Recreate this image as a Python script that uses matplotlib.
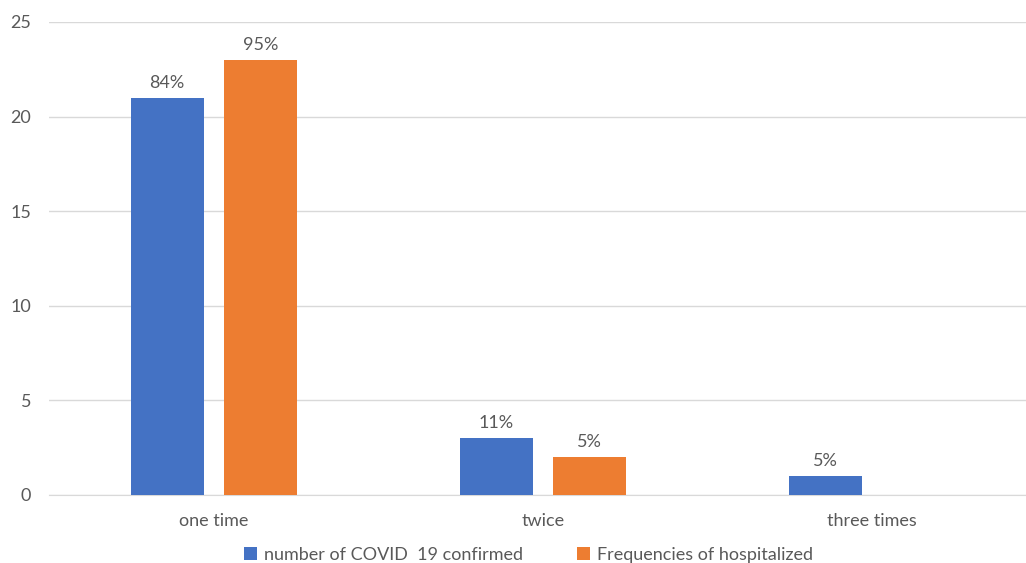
import matplotlib.pyplot as plt
import numpy as np

plt.rcParams['font.family'] = ['Lato', 'DejaVu Sans']

categories = ['one time', 'twice', 'three times']
confirmed = [21, 3, 1]
hospitalized = [23, 2, None]
confirmed_labels = ['84%', '11%', '5%']
hospitalized_labels = ['95%', '5%', None]

blue = '#4472C4'
orange = '#ED7D31'
text_col = '#595959'
grid_col = '#D9D9D9'

fig = plt.figure(figsize=(10.26, 5.63), dpi=100)
ax = fig.add_axes([0.048, 0.121, 0.962, 0.840])

x = np.arange(len(categories))
w = 0.222
off = 0.142

b1 = ax.bar(x - off, confirmed, w, color=blue, label='number of COVID  19 confirmed', zorder=3)
h_x = [xi + off for xi, v in zip(x, hospitalized) if v is not None]
h_v = [v for v in hospitalized if v is not None]
b2 = ax.bar(h_x, h_v, w, color=orange, label='Frequencies of hospitalized', zorder=3)

for rect, lab in zip(b1, confirmed_labels):
    ax.annotate(lab, (rect.get_x() + rect.get_width() / 2, rect.get_height()),
                xytext=(0, 5), textcoords='offset points', ha='center', va='bottom',
                fontsize=13, color=text_col)
for rect, lab in zip(b2, [l for l in hospitalized_labels if l is not None]):
    ax.annotate(lab, (rect.get_x() + rect.get_width() / 2, rect.get_height()),
                xytext=(0, 5), textcoords='offset points', ha='center', va='bottom',
                fontsize=13, color=text_col)

ax.set_xlim(-0.5, 2.5)
ax.set_ylim(0, 25)
ax.set_yticks([0, 5, 10, 15, 20, 25])
ax.set_xticks(x)
ax.set_xticklabels(categories)
ax.tick_params(axis='both', length=0, labelsize=13, labelcolor=text_col)
ax.tick_params(axis='x', pad=13)
ax.tick_params(axis='y', pad=13)
ax.grid(axis='y', color=grid_col, linewidth=1, zorder=0)
for s in ['top', 'right', 'left']:
    ax.spines[s].set_visible(False)
ax.spines['bottom'].set_color(grid_col)

fig.legend(loc='lower center', bbox_to_anchor=(0.515, -0.028), ncol=2, frameon=False,
           fontsize=13, labelcolor=text_col, handlelength=0.7, handleheight=0.7,
           handletextpad=0.4, columnspacing=3)

fig.savefig('out.png', dpi=100)
